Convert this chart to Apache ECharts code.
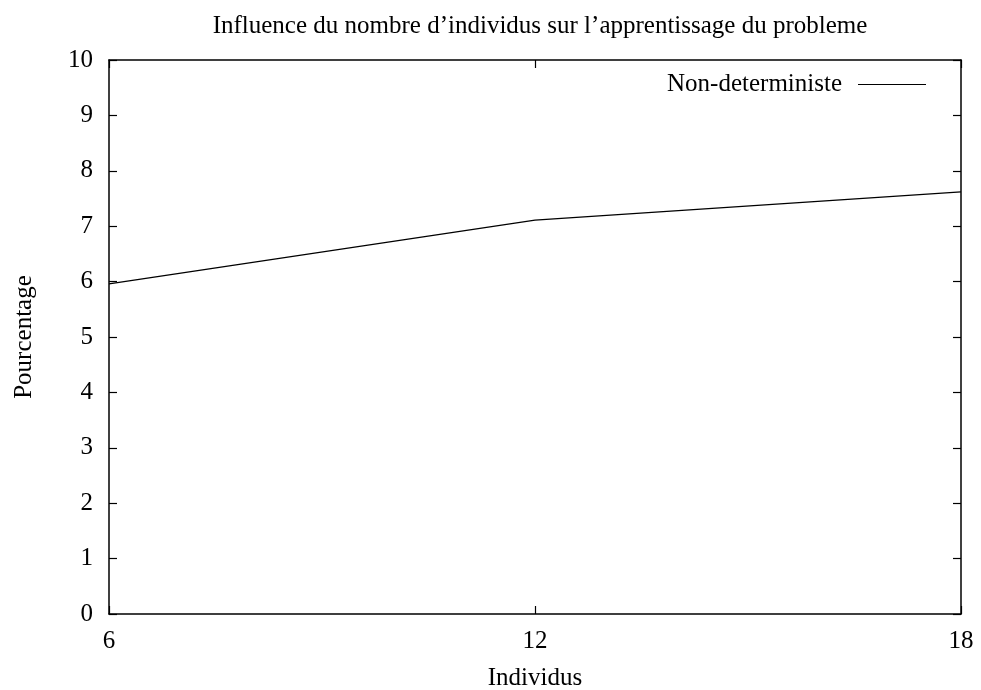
<!DOCTYPE html>
<html>
<head>
<meta charset="utf-8">
<script src="https://cdn.jsdelivr.net/npm/echarts@6/dist/echarts.min.js"></script>
<style>html,body{margin:0;padding:0;background:#fff}#c{width:981px;height:690px}</style>
</head>
<body>
<div id="c"></div>
<script>
var individus = [6, 12, 18];
var pourcentage = [5.96, 7.11, 7.62];
var xTicks = [6, 12, 18];
var seriesName = 'Non-deterministe';
var titleText = 'Influence du nombre d\u2019individus sur l\u2019apprentissage du probleme';

var font = 'Liberation Serif, Times New Roman, serif';
var chart = echarts.init(document.getElementById('c'));
var axisCommon = {
  axisLine: {show: true, onZero: false, lineStyle: {color: '#000', width: 1.5}},
  axisTick: {show: true, inside: true, length: 8, lineStyle: {color: '#000', width: 1.2}},
  splitLine: {show: false}
};
chart.setOption({
  animation: false,
  backgroundColor: '#fff',
  title: {
    text: titleText, left: 535, top: 9, textAlign: 'center',
    textStyle: {fontFamily: font, fontSize: 25, fontWeight: 'normal', color: '#000'}
  },
  legend: {
    data: [seriesName], right: 50, top: 67, align: 'right',
    icon: 'rect', itemWidth: 68, itemHeight: 1.2,
    textStyle: {fontFamily: font, fontSize: 25, color: '#000', padding: [0, 11, 0, 0]}
  },
  grid: {left: 109, right: 20, top: 60, bottom: 76, containLabel: false, outerBoundsMode: 'none'},
  xAxis: [
    Object.assign({
      type: 'value', min: xTicks[0], max: xTicks[xTicks.length - 1], interval: 6, position: 'bottom',
      name: 'Individus', nameLocation: 'middle', nameGap: 52,
      nameTextStyle: {fontFamily: font, fontSize: 25, color: '#000'},
      axisLabel: {fontFamily: font, fontSize: 25, color: '#000', margin: 15}
    }, axisCommon),
    Object.assign({
      type: 'value', min: xTicks[0], max: xTicks[xTicks.length - 1], interval: 6, position: 'top',
      axisLabel: {show: false}
    }, axisCommon)
  ],
  yAxis: [
    Object.assign({
      type: 'value', min: 0, max: 10, interval: 1, position: 'left',
      name: 'Pourcentage', nameLocation: 'middle', nameGap: 72,
      nameTextStyle: {fontFamily: font, fontSize: 25, color: '#000'},
      axisLabel: {fontFamily: font, fontSize: 25, color: '#000', margin: 16, padding: [6, 0, 0, 0]}
    }, axisCommon),
    Object.assign({
      type: 'value', min: 0, max: 10, interval: 1, position: 'right',
      axisLabel: {show: false}
    }, axisCommon)
  ],
  series: [{
    name: seriesName, type: 'line', showSymbol: false, symbol: 'none',
    data: individus.map(function (x, i) { return [x, pourcentage[i]]; }),
    lineStyle: {color: '#000', width: 1.3},
    itemStyle: {color: '#000'}
  }]
});
</script>
</body>
</html>
